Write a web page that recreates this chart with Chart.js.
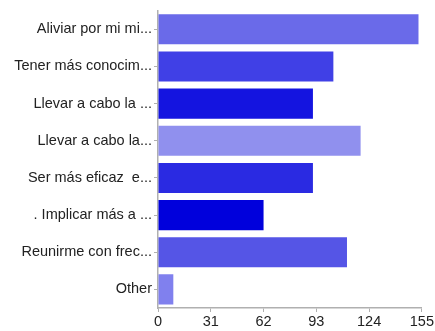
<!DOCTYPE html>
<html>
<head>
<meta charset="utf-8">
<script src="https://cdn.jsdelivr.net/npm/chart.js@4/dist/chart.umd.min.js"></script>
<style>
html,body{margin:0;padding:0;background:#fff;}
#wrap{width:435px;height:331px;position:relative;}
</style>
</head>
<body>
<div id="wrap"><canvas id="c"></canvas></div>
<script>
const categories = [
  "Aliviar por mi mi...",
  "Tener más conocim...",
  "Llevar a cabo la ...",
  "Llevar a cabo la...",
  "Ser más eficaz  e...",
  ". Implicar más a ...",
  "Reunirme con frec...",
  "Other"
];
const values = [153, 103, 91, 119, 91, 62, 111, 9];
const barColors = ["#6a6ae9", "#4040e6", "#1414e0", "#9090ee", "#2a2ae2", "#0000dc", "#5555e6", "#8080ee"];
const xTicks = [0, 31, 62, 93, 124, 155];

new Chart(document.getElementById('c'), {
  type: 'bar',
  data: {
    labels: categories,
    datasets: [{
      data: values,
      backgroundColor: barColors,
      borderWidth: 0,
      barPercentage: 0.81,
      categoryPercentage: 1.0
    }]
  },
  options: {
    indexAxis: 'y',
    responsive: true,
    maintainAspectRatio: false,
    animation: false,
    layout: { padding: { top: 7, right: -2, left: 0, bottom: 0 } },
    plugins: { legend: { display: false }, tooltip: { enabled: false } },
    scales: {
      x: {
        min: 0, max: 155,
        afterBuildTicks: (axis) => { axis.ticks = xTicks.map(v => ({ value: v })); },
        afterFit: (axis) => { axis.height = 23; },
        grid: { display: true, drawOnChartArea: false, tickLength: 4, color: '#b0b0b0' },
        border: { color: '#b0b0b0', width: 1.5 },
        ticks: { color: '#222', font: { family: 'Liberation Sans', size: 14.5 }, padding: 1, maxRotation: 0 }
      },
      y: {
        afterFit: (axis) => { axis.width = 158; },
        grid: { display: true, drawOnChartArea: false, tickLength: 4, color: '#b0b0b0', offset: false },
        border: { color: '#b0b0b0', width: 1.5 },
        ticks: { color: '#222', font: { family: 'Liberation Sans', size: 14.5 }, padding: 2 }
      }
    }
  }
});
</script>
</body>
</html>
